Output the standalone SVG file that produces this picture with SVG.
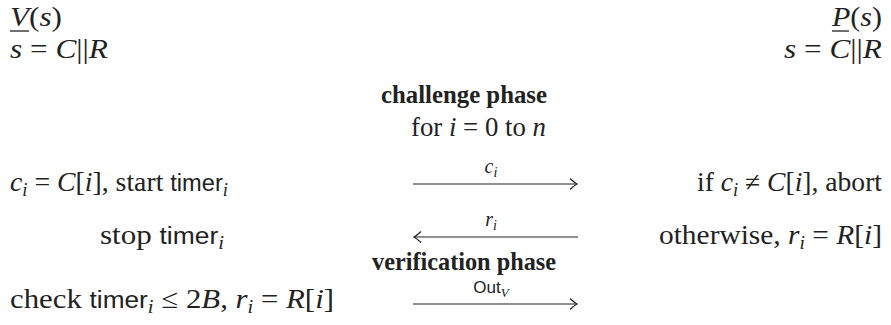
<svg xmlns="http://www.w3.org/2000/svg" width="891" height="325" viewBox="0 0 891 325">
<style>
text{font-family:"Liberation Serif","Times New Roman",serif;font-size:27px;fill:#222}
.i{font-style:italic}
.sf{font-family:"Liberation Sans",Arial,sans-serif;font-size:23px}
.b{font-weight:bold;font-size:26px}
.sub{font-size:18px}
.lbl{font-size:20px}
.conn line{stroke:#222;stroke-width:1.2}
.ul{stroke:#222;stroke-width:1.3}
</style>
<defs>
<marker id="ah" viewBox="-10 -6 12 12" refX="0" refY="0" markerWidth="12" markerHeight="12" markerUnits="userSpaceOnUse" orient="auto-start-reverse">
<path d="M-7,-5.5 Q-2,-1 0,0 Q-2,1 -7,5.5" fill="none" stroke="#222" stroke-width="1.2"/>
</marker>
</defs>
<g id="verifier">
<text x="10" y="26" textLength="52" lengthAdjust="spacingAndGlyphs"><tspan class="i">V</tspan>(<tspan class="i">s</tspan>)</text>
<line class="ul" x1="10" y1="31" x2="29" y2="31"/>
<text x="10" y="58" textLength="98" lengthAdjust="spacingAndGlyphs"><tspan class="i">s</tspan> = <tspan class="i">C</tspan>||<tspan class="i">R</tspan></text>
</g>
<g id="prover">
<text x="882" y="26" text-anchor="end" textLength="50" lengthAdjust="spacingAndGlyphs"><tspan class="i">P</tspan>(<tspan class="i">s</tspan>)</text>
<line class="ul" x1="832" y1="31" x2="849" y2="31"/>
<text x="882" y="58" text-anchor="end" textLength="98" lengthAdjust="spacingAndGlyphs"><tspan class="i">s</tspan> = <tspan class="i">C</tspan>||<tspan class="i">R</tspan></text>
</g>
<g id="challenge-phase">
<text x="464" y="103" text-anchor="middle" class="b" textLength="166" lengthAdjust="spacingAndGlyphs">challenge phase</text>
<text x="411" y="136" textLength="135" lengthAdjust="spacingAndGlyphs">for <tspan class="i">i</tspan> = 0 to <tspan class="i">n</tspan></text>
</g>
<g id="step-send">
<text x="10" y="191" textLength="218" lengthAdjust="spacingAndGlyphs"><tspan class="i">c</tspan><tspan class="i sub" dy="5">i</tspan><tspan dy="-5"> = </tspan><tspan class="i">C</tspan>[<tspan class="i">i</tspan>], start <tspan class="sf">timer</tspan><tspan class="i sub" dy="5">i</tspan></text>
</g>
<g id="step-check">
<text x="882" y="191" text-anchor="end" textLength="185" lengthAdjust="spacingAndGlyphs">if <tspan class="i">c</tspan><tspan class="i sub" dy="5">i</tspan><tspan dy="-5"> ≠ </tspan><tspan class="i">C</tspan>[<tspan class="i">i</tspan>], abort</text>
</g>
<g id="step-stop">
<text x="100" y="244" textLength="124" lengthAdjust="spacingAndGlyphs">stop <tspan class="sf">timer</tspan><tspan class="i sub" dy="5">i</tspan></text>
</g>
<g id="step-respond">
<text x="882" y="244" text-anchor="end" textLength="223" lengthAdjust="spacingAndGlyphs">otherwise, <tspan class="i">r</tspan><tspan class="i sub" dy="5">i</tspan><tspan dy="-5"> = </tspan><tspan class="i">R</tspan>[<tspan class="i">i</tspan>]</text>
</g>
<g id="verification-phase">
<text x="464" y="270" text-anchor="middle" class="b" textLength="184" lengthAdjust="spacingAndGlyphs">verification phase</text>
</g>
<g id="step-verify">
<text x="10" y="308" textLength="324" lengthAdjust="spacingAndGlyphs">check <tspan class="sf">timer</tspan><tspan class="i sub" dy="5">i</tspan><tspan dy="-5"> ≤ 2</tspan><tspan class="i">B</tspan>, <tspan class="i">r</tspan><tspan class="i sub" dy="5">i</tspan><tspan dy="-5"> = </tspan><tspan class="i">R</tspan>[<tspan class="i">i</tspan>]</text>
</g>
<g id="connectors" class="conn">
<line x1="413" y1="184" x2="577" y2="184" marker-end="url(#ah)"/>
<text x="491" y="173" text-anchor="middle" class="lbl"><tspan class="i">c</tspan><tspan class="i" dy="4" style="font-size:14px">i</tspan></text>
<line x1="414" y1="237" x2="578" y2="237" marker-start="url(#ah)"/>
<text x="491" y="226" text-anchor="middle" class="lbl"><tspan class="i">r</tspan><tspan class="i" dy="4" style="font-size:14px">i</tspan></text>
<line x1="413" y1="304" x2="577" y2="304" marker-end="url(#ah)"/>
<text x="491" y="293" text-anchor="middle" class="lbl"><tspan class="sf" style="font-size:17px">Out</tspan><tspan class="i" dy="4" style="font-size:13px">V</tspan></text>
</g>
</svg>
